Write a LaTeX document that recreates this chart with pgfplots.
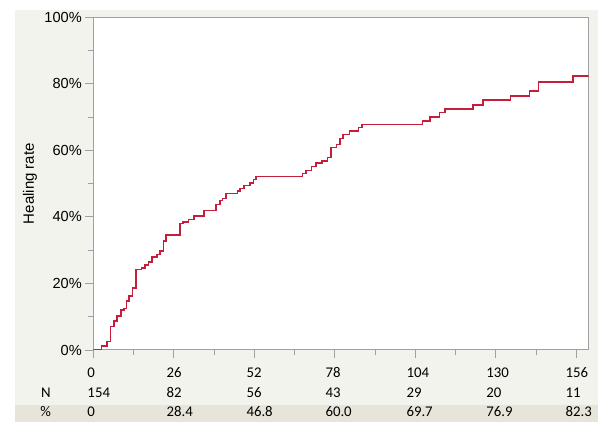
\documentclass[border=0pt]{standalone}
\usepackage{pgfplots}
\pgfplotsset{compat=1.18}
\usepackage{fontspec}
\setmainfont{Liberation Sans}
\newfontfamily\calibri{Carlito}
\definecolor{bgc}{HTML}{F3F3EE}
\definecolor{bandc}{HTML}{E7E5D9}
\definecolor{curvec}{HTML}{C41E3A}
\definecolor{axc}{HTML}{A0A0A0}
\begin{document}
\begin{tikzpicture}[x=1pt,y=1pt]
\fill[white] (-93.3,-72) rectangle (504.7,350);
\fill[bgc] (-78.3,-72) rectangle (504.7,340);
\fill[bandc] (-78.3,-72) rectangle (504.7,-55);
\begin{axis}[
  at={(0,0)}, anchor=south west,
  scale only axis, width=495.4pt, height=332.7pt,
  xmin=0, xmax=160, ymin=0, ymax=100,
  xtick={0,26,...,156}, xticklabels={},
  minor x tick num=1,
  ytick={0,20,...,100},
  yticklabels={0\%,20\%,40\%,60\%,80\%,100\%},
  minor y tick num=1,
  tick align=outside, tick pos=left,
  major tick length=8pt, minor tick length=5pt,
  tick style={draw=axc, line width=0.9pt},
  axis line style={draw=axc, line width=1pt},
  axis background/.style={fill=white},
  yticklabel style={font=\fontsize{14.6}{16}\selectfont},
  ylabel={Healing rate},
  every axis y label/.style={at={(axis description cs:-0.1278,0.5)}, rotate=90, anchor=center, font=\fontsize{15}{17}\selectfont},
]
\addplot[const plot, curvec, line width=1.5pt] coordinates {
(0,0) (2.7,1.2) (4.5,2.5) (5.6,7.0) (6.7,8.7) (7.6,10.2) (8.9,12.0) (9.9,12.5)
(10.8,14.8) (11.6,16.3) (12.7,18.7) (13.8,24.2) (15.6,24.7) (16.7,25.5) (17.8,26.5)
(18.9,28.0) (20.5,28.7) (21.5,29.8) (22.6,32.8) (23.5,34.5) (28.0,38.0) (28.9,38.5)
(30.7,39.2) (32.5,40.2) (35.8,42.0) (39.6,43.8) (40.9,45.0) (41.8,45.5) (42.9,47.0)
(46.5,47.8) (47.4,48.5) (48.7,49.5) (50.6,50.2) (51.7,51.2) (52.6,52.2) (67.6,53.0)
(68.7,54.0) (70.5,55.2) (71.9,56.2) (73.8,56.8) (75.6,57.8) (76.7,60.8) (78.6,61.8)
(79.7,63.5) (80.7,64.8) (82.7,65.8) (85.6,66.8) (86.8,67.8) (106.4,68.9) (108.8,70.1)
(111.8,71.4) (113.6,72.5) (122.7,73.6) (125.8,75.1) (134.8,76.3) (140.8,77.9)
(143.8,80.6) (154.9,82.3) (160,82.3)
};
\end{axis}
\foreach \t/\n/\p/\dx in {0/154/0/-6,26/82/28.4/-7.3,52/56/46.8/-8,78/43/60.0/-9.5,104/29/69.7/-9,130/20/76.9/-9.6,156/11/82.3/-11} {
  \node[anchor=base west, inner sep=0, font=\calibri\fontsize{14.8}{16}\selectfont] at ({\t*3.09625+\dx}, -27.5) {\t};
  \node[anchor=base west, inner sep=0, font=\calibri\fontsize{14.8}{16}\selectfont] at ({\t*3.09625+\dx}, -47.3) {\n};
  \node[anchor=base west, inner sep=0, font=\calibri\fontsize{14.8}{16}\selectfont] at ({\t*3.09625+\dx}, -66.7) {\p};
}
\node[anchor=base, inner sep=0, font=\calibri\fontsize{14.8}{16}\selectfont] at (-47.3,-47.3) {N};
\node[anchor=base, inner sep=0, font=\calibri\fontsize{14.8}{16}\selectfont] at (-47.7,-66.7) {\%};
\end{tikzpicture}
\end{document}
